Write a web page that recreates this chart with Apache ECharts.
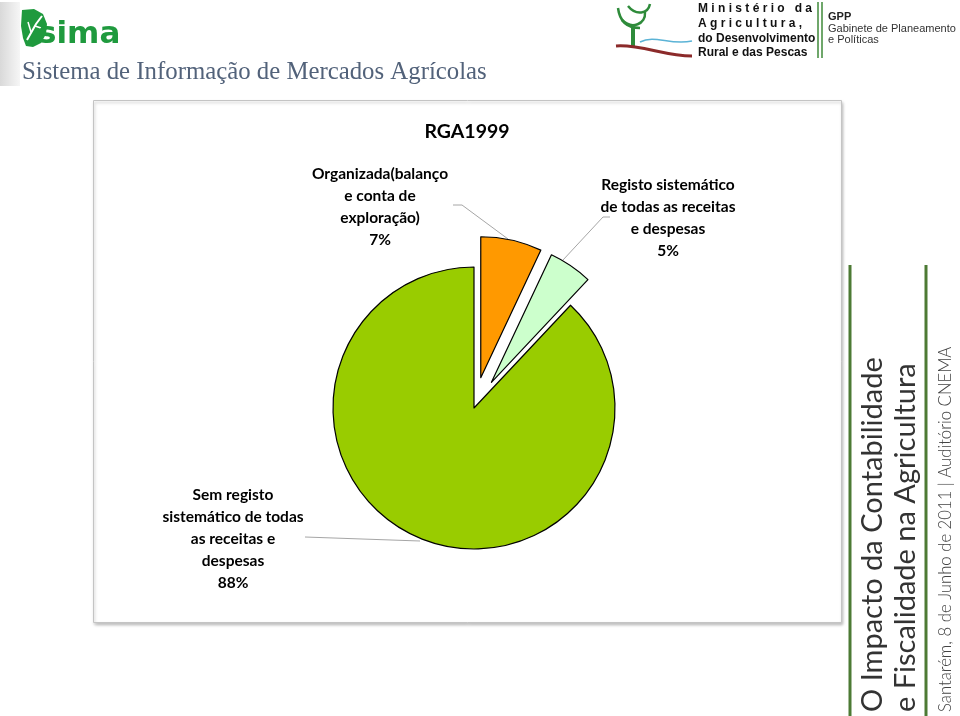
<!DOCTYPE html>
<html>
<head>
<meta charset="utf-8">
<script src="https://cdn.jsdelivr.net/npm/echarts@6/dist/echarts.min.js"></script>
<style>
html,body{margin:0;padding:0;background:#fff;}
#c{width:960px;height:716px;}
</style>
</head>
<body>
<div id="c"></div>
<script>
// ---- data ----
const chartTitle = 'RGA1999';
const categories = [
  'Organizada(balanço\ne conta de\nexploração)',
  'Registo sistemático\nde todas as receitas\ne despesas',
  'Sem registo\nsistemático de todas\nas receitas e\ndespesas'
];
const values = [7, 5, 88];
const exploded = [true, true, false];
const sliceColors = ['#FF9900', '#CCFFCC', '#99CC00'];

// ---- label placement (label boxes and leader lines) ----
const labelPos = [
  {x: 380, y: 207, line: [[453, 205], [462, 205], [508, 239]]},
  {x: 668, y: 218, line: [[610, 217], [603, 217], [563, 260]]},
  {x: 233, y: 539, line: [[305, 537], [362, 539], [420, 541]]}
];

const chart = echarts.init(document.getElementById('c'), null, {renderer: 'canvas'});

const font = 'Lato, "Open Sans", sans-serif';
const PIE_CENTER = [474, 408];
const PIE_R = 141;

const pieData = values.map((v, i) => ({
  name: categories[i],
  value: v,
  selected: exploded[i],
  itemStyle: {color: sliceColors[i]}
}));
const labelData = values.map((v, i) => ({name: categories[i], value: v}));

const option = {
  backgroundColor: '#ffffff',
  animation: false,
  graphic: [
    // left grey strip of header
    {type: 'rect', shape: {x: 0, y: 2, width: 20, height: 84},
     style: {fill: {type: 'linear', x: 0, y: 0, x2: 1, y2: 0, colorStops: [{offset: 0, color: '#d9d9d9'}, {offset: 1, color: '#f6f6f6'}]}}},
    // SIMA leaf icon
    {type: 'polygon', shape: {points: [[22, 10], [34, 9], [43, 14], [47, 24], [46, 34], [41, 43], [33, 47], [26, 46], [23, 38], [21, 26]]},
     style: {fill: '#1f9a3e'}},
    {type: 'polyline', shape: {points: [[27, 40], [36, 24], [42, 16]]}, style: {stroke: '#fff', lineWidth: 2, fill: null}},
    {type: 'polyline', shape: {points: [[31, 32], [28, 22]]}, style: {stroke: '#fff', lineWidth: 1.5, fill: null}},
    {type: 'polyline', shape: {points: [[35, 26], [41, 28]]}, style: {stroke: '#fff', lineWidth: 1.5, fill: null}},
    {type: 'text', x: 38, y: 35, style: {text: 'sima', font: '900 31px "DejaVu Sans", sans-serif', fill: '#1f9a3e', verticalAlign: 'middle', align: 'left'}},
    {type: 'text', x: 22, y: 72, style: {text: 'Sistema de Informação de Mercados Agrícolas', font: '24.8px "Liberation Serif", "DejaVu Serif", serif', fill: '#52627a', verticalAlign: 'middle', align: 'left'}},
    // Ministry tree logo
    {type: 'bezierCurve', shape: {x1: 618, y1: 8, x2: 640, y2: 28, cpx1: 620, cpy1: 24, cpx2: 630, cpy2: 28}, style: {stroke: '#2e8b3a', lineWidth: 2.5, fill: null}},
    {type: 'bezierCurve', shape: {x1: 622, y1: 20, x2: 645, y2: 12, cpx1: 632, cpy1: 30, cpx2: 646, cpy2: 24}, style: {stroke: '#2e8b3a', lineWidth: 2.5, fill: null}},
    {type: 'bezierCurve', shape: {x1: 628, y1: 6, x2: 650, y2: 4, cpx1: 636, cpy1: 16, cpx2: 648, cpy2: 14}, style: {stroke: '#2e8b3a', lineWidth: 2.5, fill: null}},
    {type: 'line', shape: {x1: 633, y1: 28, x2: 633, y2: 46}, style: {stroke: '#2e8b3a', lineWidth: 4}},
    {type: 'bezierCurve', shape: {x1: 616, y1: 46, x2: 692, y2: 56, cpx1: 640, cpy1: 44, cpx2: 665, cpy2: 56}, style: {stroke: '#8b2a2a', lineWidth: 3, fill: null}},
    {type: 'bezierCurve', shape: {x1: 640, y1: 42, x2: 692, y2: 41, cpx1: 655, cpy1: 34, cpx2: 670, cpy2: 46}, style: {stroke: '#5bb3d6', lineWidth: 1.5, fill: null}},
    {type: 'text', x: 698, y: 9, style: {text: 'M i n i s t é r i o   d a', font: 'bold 12px "Liberation Sans", Arial, sans-serif', fill: '#111', verticalAlign: 'middle'}},
    {type: 'text', x: 698, y: 24, style: {text: 'A g r i c u l t u r a ,', font: 'bold 12px "Liberation Sans", Arial, sans-serif', fill: '#111', verticalAlign: 'middle'}},
    {type: 'text', x: 698, y: 39, style: {text: 'do Desenvolvimento', font: 'bold 12px "Liberation Sans", Arial, sans-serif', fill: '#111', verticalAlign: 'middle'}},
    {type: 'text', x: 698, y: 53, style: {text: 'Rural e das Pescas', font: 'bold 12px "Liberation Sans", Arial, sans-serif', fill: '#111', verticalAlign: 'middle'}},
    {type: 'line', shape: {x1: 818, y1: 2, x2: 818, y2: 58}, style: {stroke: '#3f8a3a', lineWidth: 1.5}},
    {type: 'line', shape: {x1: 822, y1: 2, x2: 822, y2: 58}, style: {stroke: '#3f8a3a', lineWidth: 1.5}},
    {type: 'text', x: 828, y: 17, style: {text: 'GPP', font: 'bold 11px "Liberation Sans", Arial, sans-serif', fill: '#222', verticalAlign: 'middle'}},
    {type: 'text', x: 828, y: 29, style: {text: 'Gabinete de Planeamento', font: '11px "Liberation Sans", Arial, sans-serif', fill: '#333', verticalAlign: 'middle'}},
    {type: 'text', x: 828, y: 40, style: {text: 'e Políticas', font: '11px "Liberation Sans", Arial, sans-serif', fill: '#333', verticalAlign: 'middle'}},
    // chart frame
    {type: 'rect', z: -10, shape: {x: 93.5, y: 100.5, width: 748, height: 522},
     style: {fill: '#fff', stroke: '#c4c4c4', lineWidth: 1, shadowBlur: 3, shadowOffsetX: 1, shadowOffsetY: 2, shadowColor: 'rgba(0,0,0,0.25)'}},
    {type: 'text', x: 467, y: 132, style: {text: chartTitle, font: 'bold 19.5px ' + font, fill: '#000', align: 'center', verticalAlign: 'middle'}},
    // right side vertical banner
    {type: 'line', shape: {x1: 850, y1: 265, x2: 850, y2: 716}, style: {stroke: '#4d7a34', lineWidth: 3}},
    {type: 'line', shape: {x1: 926, y1: 265, x2: 926, y2: 716}, style: {stroke: '#4d7a34', lineWidth: 3}},
    {type: 'text', x: 873, y: 712, rotation: Math.PI / 2, style: {text: 'O Impacto da Contabilidade', font: '400 29px ' + font, fill: '#333', align: 'left', verticalAlign: 'middle'}},
    {type: 'text', x: 906, y: 712, rotation: Math.PI / 2, style: {text: 'e Fiscalidade na Agricultura', font: '400 29px ' + font, fill: '#333', align: 'left', verticalAlign: 'middle'}},
    {type: 'text', x: 946, y: 712, rotation: Math.PI / 2, style: {text: 'Santarém, 8 de Junho de 2011 | Auditório CNEMA', font: '300 16.7px ' + font, fill: '#444', align: 'left', verticalAlign: 'middle'}}
  ],
  series: [{
    // visible slices (two exploded)
    type: 'pie',
    center: PIE_CENTER,
    radius: PIE_R,
    startAngle: 90,
    clockwise: true,
    selectedMode: 'multiple',
    selectedOffset: 31,
    itemStyle: {borderColor: '#000', borderWidth: 1.2},
    emphasis: {disabled: true},
    select: {itemStyle: {borderColor: '#000', borderWidth: 1.2}},
    label: {show: false},
    labelLine: {show: false},
    data: pieData
  }, {
    // invisible twin carrying the data labels and leader lines
    type: 'pie',
    center: PIE_CENTER,
    radius: PIE_R,
    startAngle: 90,
    clockwise: true,
    silent: true,
    z: 1,
    itemStyle: {color: 'rgba(0,0,0,0)', borderWidth: 0},
    emphasis: {disabled: true},
    avoidLabelOverlap: false,
    label: {
      show: true,
      position: 'outside',
      formatter: p => p.name + '\n' + Math.round(p.percent) + '%',
      fontFamily: 'Lato',
      fontWeight: 'bold',
      fontSize: 15.5,
      color: '#000',
      lineHeight: 22,
      align: 'center'
    },
    labelLine: {show: true, lineStyle: {color: '#a6a6a6', width: 1}},
    labelLayout: function (params) {
      const lp = labelPos[params.dataIndex];
      return {x: lp.x, y: lp.y, align: 'center', verticalAlign: 'middle', labelLinePoints: lp.line};
    },
    data: labelData
  }]
};
chart.setOption(option);
</script>
</body>
</html>
